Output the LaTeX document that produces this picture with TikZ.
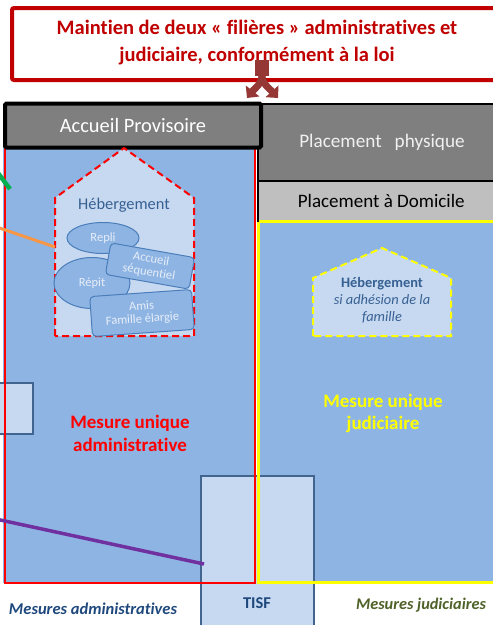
\documentclass[tikz,border=0pt]{standalone}
\usepackage{fontspec}
\setmainfont{Carlito}[Ligatures=NoCommon]
\usetikzlibrary{arrows.meta,shapes.geometric}
\definecolor{titlered}{HTML}{C00000}
\definecolor{arrowred}{HTML}{953735}
\definecolor{boxgray}{HTML}{7F7F7F}
\definecolor{lightgray}{HTML}{BFBFBF}
\definecolor{midblue}{HTML}{8EB4E3}
\definecolor{paleblue}{HTML}{C6D9F1}
\definecolor{edgeblue}{HTML}{41658F}
\definecolor{shapeedge}{HTML}{4A7EBB}
\definecolor{textblue}{HTML}{1F497D}
\definecolor{housetext}{HTML}{376092}
\definecolor{olive}{HTML}{4F6228}
\definecolor{innertext}{HTML}{E6EEF8}
\definecolor{purpleline}{HTML}{7030A0}
\definecolor{orangeline}{HTML}{F79646}
\definecolor{greenline}{HTML}{00B050}
\definecolor{pureyellow}{HTML}{FFFF00}
\definecolor{purered}{HTML}{FF0000}
\begin{document}
\begin{tikzpicture}[x=1pt,y=-1pt,
  lbox/.style={draw=edgeblue,line width=2,fill=paleblue},
  inshape/.style={draw=shapeedge,line width=1,fill=midblue,text=innertext,font=\fontsize{12.5}{13}\selectfont,align=center,inner sep=1},
  arr/.style={draw=arrowred,line width=7,-{Triangle[length=9,width=17]}},
  connector/.style={line width=3.5}
]
\useasboundingbox (0,0) rectangle (493,625);
\fill[white] (0,0) rectangle (493,625);
% blue regions
\fill[midblue] (3,145) rectangle (255,583);
\fill[midblue] (257,221) rectangle (500,582);
% small left box and TISF box
\draw[lbox] (-5,383) rectangle (33,434);
\node[lbox,minimum width=113,minimum height=160,anchor=north west] (tisfbox) at (200,475) {};
\node[font=\bfseries\fontsize{16.5}{18}\selectfont,text=textblue] (tisf) at (257,603) {TISF};
% red and yellow frames
\draw[purered,line width=2.2] (5,145) rectangle (255,583);
\draw[pureyellow,line width=3] (258.5,221) rectangle (505,582);
% header boxes
\node[draw=black,line width=2,fill=boxgray,minimum width=245,minimum height=77,anchor=north west,text=white!94!black,font=\fontsize{19.2}{21}\selectfont] (physique) at (257,103) {\hspace{3pt}Placement \ \ physique};
\node[draw=black,line width=1.5,fill=lightgray,minimum width=245,minimum height=40,anchor=north west,font=\fontsize{19}{21}\selectfont] (domicile) at (257,180) {\hspace{2pt}Placement à Domicile};
\draw[pureyellow,line width=3] (258.5,221) -- (500,221);
\node[draw=black,line width=4,rounded corners=1.5,fill=boxgray,minimum width=256,minimum height=44,anchor=north west,text=white,font=\fontsize{20.4}{22}\selectfont] (accueil) at (3,101.5) {Accueil Provisoire};
% left house
\draw[purered,line width=2,dash pattern=on 7 off 4,fill=paleblue] (55,336) -- (55,198) -- (124,148) -- (194,198) -- (194,336) -- cycle;
\node[text=housetext,font=\fontsize{16.4}{18}\selectfont] (heb1) at (124,205) {Hébergement};
\node[inshape,ellipse,minimum width=72,minimum height=31] (repli) at (103,238) {Repli};
\node[inshape,ellipse,minimum width=76,minimum height=51] (repit) at (92,283) {Répit};
\node[inshape,rounded corners=4,minimum width=85,minimum height=32,rotate=-10] (sequentiel) at (150,266) {Accueil\\séquentiel};
\node[inshape,rounded corners=4,minimum width=102,minimum height=40,rotate=4] (amis) at (142,313) {Amis\\Famille élargie};
% right house
\draw[pureyellow,line width=2,dash pattern=on 7 off 4,fill=paleblue] (313,336) -- (313,278) -- (382,248) -- (451,278) -- (451,336) -- cycle;
\node[text=housetext,align=center,font=\fontsize{14.4}{17}\selectfont] (heb2) at (382,300) {\textbf{Hébergement}\\\textit{si adhésion de la}\\\textit{famille}};
% labels
\node[text=purered,align=center,font=\bfseries\fontsize{19}{23}\selectfont] (admin) at (130,433) {Mesure unique\\administrative};
\node[text=pureyellow,align=center,font=\bfseries\fontsize{19}{22}\selectfont] (judic) at (383,413) {Mesure unique\\judiciaire};
\node[text=textblue,font=\bfseries\itshape\fontsize{16.5}{18}\selectfont] (madmin) at (93,609) {Mesures administratives};
\node[text=olive,font=\bfseries\itshape\fontsize{16.3}{18}\selectfont] (mjudic) at (421,605) {Mesures judiciaires};
% connectors
\coordinate (pstart) at (-2,519.5);
\coordinate (pend) at (204,564);
\draw[connector,purpleline] (pstart) -- (pend);
\coordinate (ostart) at (-2,227.5);
\coordinate (oend) at (55,247);
\draw[connector,orangeline,line width=3] (ostart) -- (oend);
\coordinate (gstart) at (-2,173);
\coordinate (gend) at (10,189);
\draw[connector,greenline,line width=4.5] (gstart) -- (gend);
% title
\node[draw=titlered,line width=4,rounded corners=2,fill=white,minimum width=500,minimum height=72,anchor=north west] (title) at (10,6) {};
\node[text=titlered,align=center,font=\bfseries\fontsize{20.5}{27}\selectfont] (titletext) at (257,43) {Maintien de deux « filières » administratives et\\judiciaire, conformément à la loi};
\coordinate (asplit) at (262,60);
\coordinate (aleft) at (247,98);
\coordinate (aright) at (278,98);
\fill[arrowred] (255,60) rectangle (269,76);
\draw[arr] (asplit) -- (262,75) .. controls (262,84) and (255,88) .. (aleft);
\draw[arr] (asplit) -- (262,75) .. controls (262,84) and (269,88) .. (aright);
\end{tikzpicture}
\end{document}
